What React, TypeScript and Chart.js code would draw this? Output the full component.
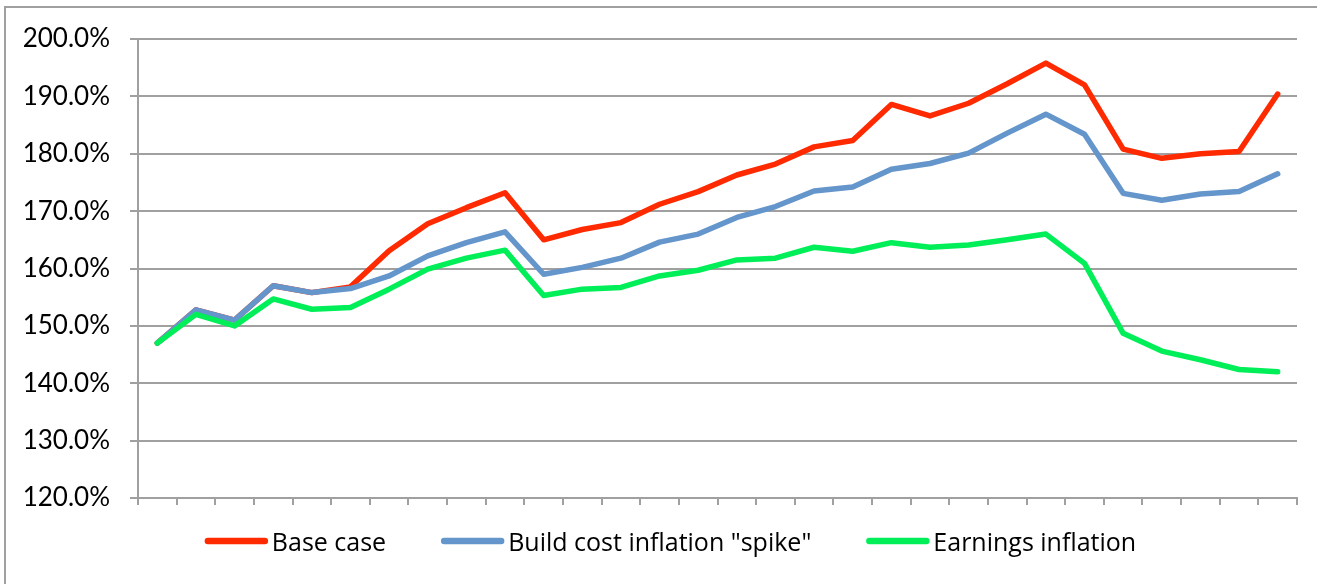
import React, { useEffect, useRef } from "react";
import { Chart, registerables } from "chart.js";

Chart.register(...registerables);

const categories: string[] = [
  "P1", "P2", "P3", "P4", "P5", "P6", "P7", "P8", "P9", "P10",
  "P11", "P12", "P13", "P14", "P15", "P16", "P17", "P18", "P19", "P20",
  "P21", "P22", "P23", "P24", "P25", "P26", "P27", "P28", "P29", "P30",
];

const baseCase: number[] = [
  147.0, 152.8, 151.0, 157.0, 155.8, 156.8, 163.1, 167.8, 170.6, 173.2,
  165.0, 166.8, 168.0, 171.2, 173.4, 176.3, 178.2, 181.2, 182.3, 188.6,
  186.6, 188.8, 192.2, 195.8, 192.0, 180.8, 179.2, 180.0, 180.4, 190.4,
];

const buildCostSpike: number[] = [
  147.0, 152.8, 151.0, 157.0, 155.8, 156.5, 158.7, 162.2, 164.5, 166.4,
  159.0, 160.2, 161.8, 164.6, 166.0, 168.9, 170.8, 173.5, 174.2, 177.3,
  178.3, 180.1, 183.6, 186.9, 183.4, 173.1, 171.9, 173.0, 173.4, 176.5,
];

const earningsInflation: number[] = [
  147.0, 152.0, 150.0, 154.7, 152.9, 153.2, 156.4, 159.9, 161.8, 163.2,
  155.3, 156.4, 156.7, 158.7, 159.7, 161.5, 161.8, 163.7, 163.0, 164.5,
  163.7, 164.1, 165.0, 166.0, 160.9, 148.7, 145.6, 144.1, 142.4, 142.0,
];

const seriesNames: string[] = ["Base case", 'Build cost inflation "spike"', "Earnings inflation"];
const seriesColors: string[] = ["#ff2a00", "#6495cb", "#00ee58"];

const yMin = 120;
const yMax = 200;
const yStep = 10;

const FONT = "Lato, 'Open Sans', sans-serif";
const LEGEND_FONT = "'Open Sans', Lato, sans-serif";
const GRID = "#a0a0a0";

const frameBorder = {
  id: "frameBorder",
  beforeDraw(chart: any) {
    const ctx = chart.ctx;
    ctx.save();
    ctx.fillStyle = "#ffffff";
    ctx.fillRect(0, 0, chart.width, chart.height);
    ctx.strokeStyle = GRID;
    ctx.lineWidth = 2;
    ctx.strokeRect(5, 7, chart.width + 20, chart.height + 20);
    ctx.restore();
  },
};

const customLegend = {
  id: "customLegend",
  afterDraw(chart: any) {
    const ctx = chart.ctx;
    const lineLen = 63;
    const textGap = 4;
    const itemGap = 55;
    const baselineY = 551;
    const lineY = 541;
    ctx.save();
    ctx.font = `25px ${LEGEND_FONT}`;
    const items = chart.data.datasets.map((ds: any) => ({
      text: ds.label,
      color: ds.borderColor,
      w: ctx.measureText(ds.label).width,
    }));
    const total =
      items.reduce((s: number, it: any) => s + lineLen + textGap + it.w, 0) +
      itemGap * (items.length - 1);
    const center = 670.5;
    let x = center - total / 2;
    for (const it of items) {
      ctx.strokeStyle = it.color;
      ctx.lineWidth = 6.5;
      ctx.lineCap = "round";
      ctx.beginPath();
      ctx.moveTo(x + 3, lineY);
      ctx.lineTo(x + lineLen - 3, lineY);
      ctx.stroke();
      ctx.fillStyle = "#000000";
      ctx.textBaseline = "alphabetic";
      ctx.textAlign = "left";
      ctx.fillText(it.text, x + lineLen + textGap, baselineY);
      x += lineLen + textGap + it.w + itemGap;
    }
    ctx.restore();
  },
};

export default function App() {
  const canvasRef = useRef<HTMLCanvasElement | null>(null);

  useEffect(() => {
    if (!canvasRef.current) return;
    const datasets = [baseCase, buildCostSpike, earningsInflation].map((values, i) => ({
      label: seriesNames[i],
      data: values,
      borderColor: seriesColors[i],
      backgroundColor: seriesColors[i],
      borderWidth: 5.5,
      pointRadius: 0,
      pointHoverRadius: 0,
      tension: 0,
      fill: false,
      borderJoinStyle: "round" as const,
      borderCapStyle: "round" as const,
      order: 2 - i,
    }));

    const chart = new Chart(canvasRef.current, {
      type: "line",
      data: { labels: categories, datasets },
      plugins: [frameBorder, customLegend],
      options: {
        animation: false,
        responsive: false,
        maintainAspectRatio: false,
        events: [],
        layout: { padding: { left: 0, top: 39, right: 20, bottom: 76 } },
        plugins: {
          legend: { display: false },
          tooltip: { enabled: false },
          title: { display: false },
        },
        scales: {
          x: {
            type: "category",
            offset: true,
            grid: {
              offset: true,
              drawOnChartArea: false,
              drawTicks: true,
              tickLength: 7,
              color: GRID,
              lineWidth: 2,
            },
            border: { display: true, color: GRID, width: 2 },
            ticks: { display: false },
            afterFit: (scale: any) => {
              scale.height = 10;
            },
          },
          y: {
            min: yMin,
            max: yMax,
            grid: {
              color: GRID,
              lineWidth: 2,
              drawTicks: true,
              tickLength: 8,
            },
            border: { display: true, color: GRID, width: 2 },
            ticks: {
              stepSize: yStep,
              padding: 20,
              color: "#000000",
              font: { family: FONT, size: 26 },
              callback: (v: any) => `${Number(v).toFixed(1)}%`,
            },
            afterFit: (scale: any) => {
              scale.width = 138;
            },
          },
        },
      },
    });
    return () => chart.destroy();
  }, []);

  return (
    <div style={{ position: "absolute", left: 0, top: 0, width: 1317, height: 584, background: "#fff" }}>
      <canvas ref={canvasRef} width={1317} height={584} style={{ display: "block", width: 1317, height: 584 }} />
    </div>
  );
}
